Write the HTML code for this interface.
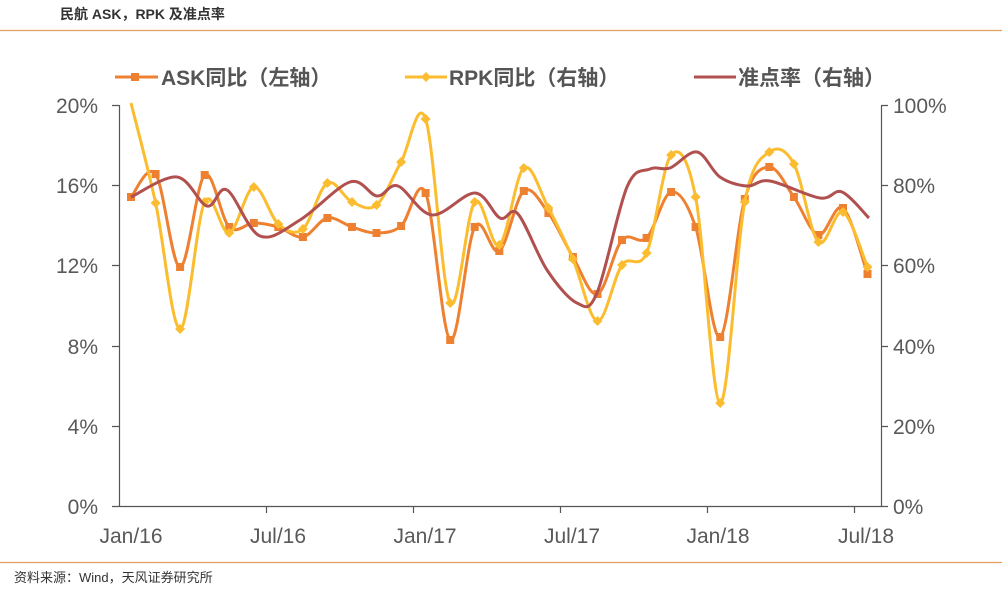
<!DOCTYPE html>
<html><head><meta charset="utf-8">
<style>
html,body{margin:0;padding:0;background:#fff;}
body{width:1002px;height:589px;overflow:hidden;font-family:"Liberation Sans","Noto Sans CJK SC",sans-serif;}
</style></head>
<body>
<svg id="s" width="1002" height="589" xmlns="http://www.w3.org/2000/svg" font-family="Liberation Sans, Noto Sans CJK SC, sans-serif">
<text x="60" y="19" font-size="14" font-weight="bold" fill="#333">民航 ASK，RPK 及准点率</text>
<line x1="0" y1="30.5" x2="1002" y2="30.5" stroke="#e0a060" stroke-width="1.2"/>
<line x1="0" y1="562.5" x2="1002" y2="562.5" stroke="#e0a060" stroke-width="1.2"/>
<text x="14" y="582" font-size="13" fill="#333">资料来源：Wind，天风证券研究所</text>
<!-- legend -->
<line x1="115" y1="77" x2="158" y2="77" stroke="#ee8131" stroke-width="3"/>
<rect x="131" y="73" width="8" height="8" fill="#ee8131"/>
<text x="161" y="85" font-size="21" font-weight="bold" fill="#555">ASK同比（左轴）</text>
<line x1="405" y1="77" x2="447" y2="77" stroke="#fbbd2f" stroke-width="3"/>
<path d="M426,72 L431,77 426,82 421,77Z" fill="#fbbd2f"/>
<text x="449" y="85" font-size="21" font-weight="bold" fill="#555">RPK同比（右轴）</text>
<line x1="694" y1="77" x2="736" y2="77" stroke="#b0504f" stroke-width="3"/>
<text x="738" y="85" font-size="21" font-weight="bold" fill="#555">准点率（右轴）</text>
<!-- axes -->
<g stroke="#555" stroke-width="1.2" fill="none">
<line x1="119.5" y1="105" x2="119.5" y2="506"/>
<line x1="881.5" y1="105" x2="881.5" y2="506"/>
<line x1="119" y1="506.5" x2="882" y2="506.5"/>
<path d="M112,105.5H119M112,185.5H119M112,265.5H119M112,346.5H119M112,426.5H119M112,506.5H119"/>
<path d="M881,105.5H888M881,185.5H888M881,265.5H888M881,346.5H888M881,426.5H888M881,506.5H888"/>
<path d="M266.5,506V513M413.5,506V513M560.5,506V513M707.5,506V513M854.5,506V513"/>
</g>
<g font-size="21" fill="#595959" text-anchor="end">
<text x="98" y="113">20%</text><text x="98" y="193">16%</text><text x="98" y="273">12%</text>
<text x="98" y="354">8%</text><text x="98" y="434">4%</text><text x="98" y="514">0%</text>
</g>
<g font-size="21" fill="#595959">
<text x="893" y="113">100%</text><text x="893" y="193">80%</text><text x="893" y="273">60%</text>
<text x="893" y="354">40%</text><text x="893" y="434">20%</text><text x="893" y="514">0%</text>
</g>
<g font-size="21" fill="#595959" text-anchor="middle">
<text x="131" y="543">Jan/16</text><text x="278" y="543">Jul/16</text><text x="425" y="543">Jan/17</text>
<text x="572" y="543">Jul/17</text><text x="718" y="543">Jan/18</text><text x="866" y="543">Jul/18</text>
</g>
<g id="series"></g>
</svg>
<script>
function cr(p){var d="M"+p[0][0]+","+p[0][1];for(var i=0;i<p.length-1;i++){var a=p[i-1]||p[i],b=p[i],c=p[i+1],e=p[i+2]||c;var t=6;d+=" C"+(b[0]+(c[0]-a[0])/t).toFixed(1)+","+(b[1]+(c[1]-a[1])/t).toFixed(1)+" "+(c[0]-(e[0]-b[0])/t).toFixed(1)+","+(c[1]-(e[1]-b[1])/t).toFixed(1)+" "+c[0]+","+c[1];}return d;}
var xs=[];for(var i=0;i<31;i++)xs.push(131+i*24.55);
var ask=[197,174,267,175,227,223,227,237,218,227,233,226,193,340,227,251,191,213,257,294,240,238,192,227,337,199,167,197,235,208,274];
var rpk=[103,203,329,202,233,187,224,229,183,202,205,162,119,303,202,245,168,208,259,321,265,253,155,197,403,202,152,164,242,212,267];
var pun=[[131,197],[177,177],[207,206],[227,190],[260,236],[300,220],[350,182],[377,196],[398,186],[432,215],[475,193],[500,218],[518,214],[547,270],[577,303],[597,293],[627,187],[650,169],[670,168],[697,152],[720,177],[747,186],[770,181],[820,198],[842,192],[869,218]];
var g=document.getElementById("series"),h="";
function pts(a){return a.map(function(v,i){return [+xs[i].toFixed(1),v];});}
h+='<path d="'+cr(pts(ask))+'" fill="none" stroke="#ee8131" stroke-width="3"/>';
pts(ask).forEach(function(p){h+='<rect x="'+(p[0]-4)+'" y="'+(p[1]-4)+'" width="8" height="8" fill="#ee8131"/>';});
h+='<path d="'+cr(pts(rpk))+'" fill="none" stroke="#fbbd2f" stroke-width="3"/>';
pts(rpk).slice(1).forEach(function(p){h+='<path d="M'+p[0]+','+(p[1]-5)+' L'+(p[0]+5)+','+p[1]+' '+p[0]+','+(p[1]+5)+' '+(p[0]-5)+','+p[1]+'Z" fill="#fbbd2f"/>';});
h+='<path d="'+cr(pun)+'" fill="none" stroke="#b0504f" stroke-width="3"/>';
g.innerHTML=h;
</script>
</body></html>
